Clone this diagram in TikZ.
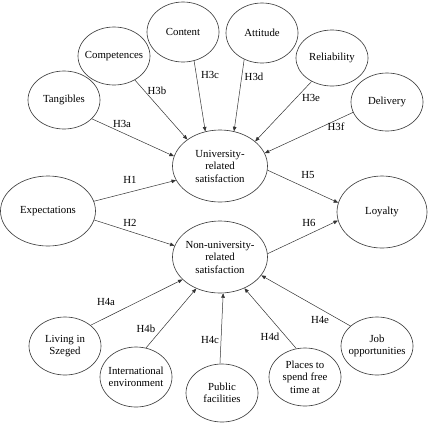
\documentclass[tikz,border=0pt]{standalone}
\usepackage{fontspec}
\setmainfont{Liberation Serif}
\usetikzlibrary{arrows.meta, shapes.geometric}

\begin{document}
\begin{tikzpicture}[x=1pt,y=-1pt,>={Triangle[length=4.5pt,width=3.6pt]},
      every node/.style={font=\fontsize{10.8}{12.5}\selectfont},
      var/.style={draw=black!75,line width=0.65pt,ellipse,inner sep=0pt,inner xsep=-8pt,align=center},
      small/.style={var,minimum width=72pt,minimum height=58pt},
      big/.style={var,minimum width=95pt,minimum height=72pt},
      every edge/.style={draw=black!80,line width=0.5pt,->}]
      \useasboundingbox (0,0) rectangle (428,424);
      % constructs
      \node[small] (tangib)   at (64,100)  {Tangibles};
      \node[small] (compet)   at (114,56)  {Competences};
      \node[small, minimum height=60pt] (content)  at (183,32)  {Content};
      \node[small, minimum height=60pt] (attitude) at (262,33)  {Attitude};
      \node[small, minimum height=56pt] (reliab)   at (332,58)  {Reliability};
      \node[small] (deliv)    at (387,102) {Delivery};
      \node[big]   (u_sat)    at (220,166) {University-\\related\\satisfaction};
      \node[big, minimum width=95pt, minimum height=70pt] (expect) at (48,211) {Expectations};
      \node[big, minimum width=90pt] (loyal) at (382,212) {Loyalty};
      \node[big]   (n_sat)    at (220,257) {Non-university-\\related\\satisfaction};
      \node[small] (living)   at (65,346)  {Living in\\Szeged};
      \node[small, minimum height=60pt] (intl) at (136,377) {International\\environment};
      \node[small] (public)   at (222,393) {Public\\facilities};
      \node[small] (places)   at (305,377) {Places to\\spend free\\time at};
      \node[small] (job)      at (377,346) {Job\\opportunities};
      % paths
      \path (tangib.-34)   edge (u_sat.168)
            (compet.-49)   edge (u_sat.141)
            (content.-69)  edge (u_sat.113)
            (attitude.-124) edge (u_sat.68)
            (reliab.-131)  edge (u_sat.35)
            (deliv.-163)   edge (u_sat.16)
            (expect.12)    edge (u_sat.-162)
            (expect.-11)   edge (n_sat.166)
            (u_sat.-5)     edge (loyal.168)
            (n_sat.4)      edge (loyal.-169)
            (living.39)    edge (n_sat.-149)
            (intl.71)      edge (n_sat.-127)
            (public.94)    edge (n_sat.-85)
            (places.107)   edge (n_sat.-52)
            (job.143)      edge (n_sat.-24);
      % hypotheses
      \node (h3a) at (122,124) {H3a};
      \node (h3b) at (157,91)  {H3b};
      \node (h3c) at (210,75)  {H3c};
      \node (h3d) at (254,77)  {H3d};
      \node (h3e) at (311,98)  {H3e};
      \node (h3f) at (336,127) {H3f};
      \node (h1)  at (130,180) {H1};
      \node (h2)  at (130,223) {H2};
      \node (h5)  at (308,175) {H5};
      \node (h6)  at (309,223) {H6};
      \node (h4a) at (106,302) {H4a};
      \node (h4b) at (146,329) {H4b};
      \node (h4c) at (210,340) {H4c};
      \node (h4d) at (270,337) {H4d};
      \node (h4e) at (320,320) {H4e};
    \end{tikzpicture}
\end{document}
